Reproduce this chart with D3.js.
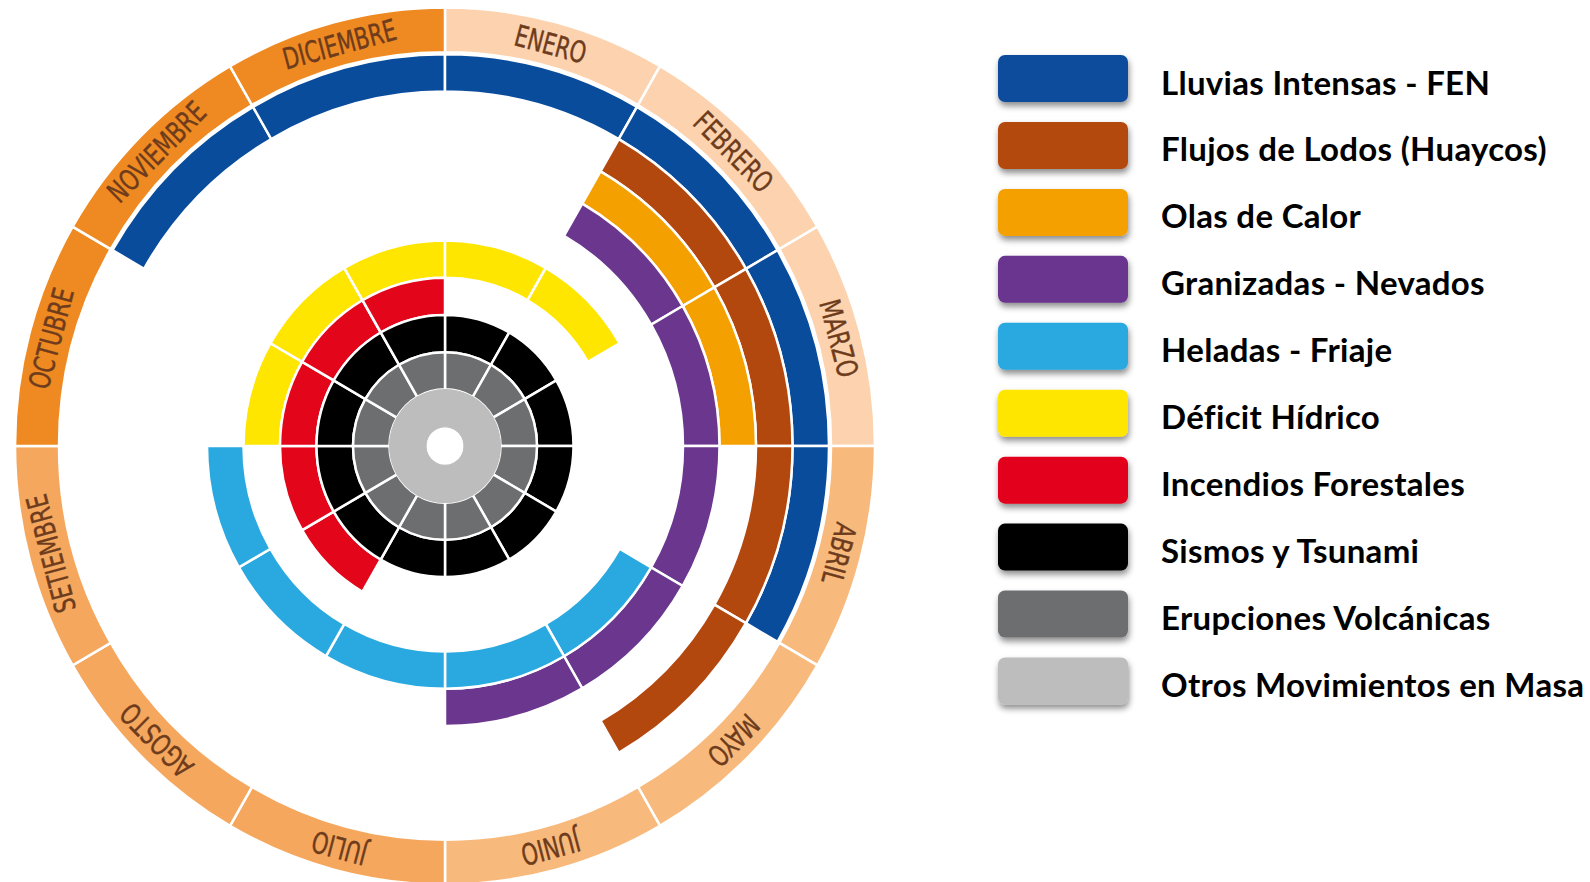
<!DOCTYPE html>
<html>
<head>
<meta charset="utf-8">
<script src="https://cdn.jsdelivr.net/npm/d3@7"></script>
<style>
  body { margin: 0; background: #fff; }
  .month-label { font-family: "Liberation Sans Narrow", "DejaVu Sans Condensed", "Roboto", sans-serif; font-stretch: condensed; }
  .legend-label { font-family: "Lato", "Open Sans", sans-serif; font-weight: 700; }
</style>
</head>
<body>
<div id="chart"></div>
<script>
// meses del calendario (anillo exterior)
var months = ["ENERO", "FEBRERO", "MARZO", "ABRIL", "MAYO", "JUNIO",
              "JULIO", "AGOSTO", "SETIEMBRE", "OCTUBRE", "NOVIEMBRE", "DICIEMBRE"];

// peligros, del anillo de afuera hacia el centro
var seriesNames = ["Lluvias Intensas - FEN", "Flujos de Lodos (Huaycos)", "Olas de Calor",
                   "Granizadas - Nevados", "Heladas - Friaje", "Déficit Hídrico",
                   "Incendios Forestales", "Sismos y Tsunami", "Erupciones Volcánicas",
                   "Otros Movimientos en Masa"];

// meses activos de cada peligro (0 = enero)
var allYear = [0, 1, 2, 3, 4, 5, 6, 7, 8, 9, 10, 11];
var seriesMonths = [
    [10, 11, 0, 1, 2, 3],   // Lluvias: nov - abr
    [1, 2, 3, 4],           // Huaycos: feb - may
    [1, 2],                 // Olas de calor: feb - mar
    [1, 2, 3, 4, 5],        // Granizadas: feb - jun
    [4, 5, 6, 7, 8],        // Heladas: may - set
    [9, 10, 11, 0, 1],      // Deficit: oct - feb
    [7, 8, 9, 10, 11],      // Incendios: ago - dic
    allYear,
    allYear,
    allYear
];

var seriesColors = ["#0a4c9c", "#b3480f", "#f4a000", "#6a368e", "#2aa9e0",
                    "#ffe600", "#e3061b", "#000000", "#6d6e70", "#bdbdbd"];
// color del anillo de meses por trimestre
var quarterColors = ["#fcd3ae", "#f8b97c", "#f5a75e", "#ef8a22"];

var width = 1590, height = 882;

var svg = d3.select("#chart").append("svg")
    .attr("width", width)
    .attr("height", height);

var defs = svg.append("defs");
defs.append("filter")
    .attr("id", "shadow")
    .attr("x", "-20%").attr("y", "-30%")
    .attr("width", "140%").attr("height", "180%")
    .append("feDropShadow")
    .attr("dx", 1).attr("dy", 4)
    .attr("stdDeviation", 3)
    .attr("flood-color", "#000")
    .attr("flood-opacity", 0.45);

var g = svg.append("g")
    .attr("transform", "translate(445,446) scale(1,1.02)");

var angle = d3.scaleLinear().domain([0, 12]).range([0, 2 * Math.PI]);

// bandas de radio: el centro es "Otros", afuera "Lluvias"
var radius = d3.scaleBand()
    .domain(seriesNames.slice().reverse())
    .range([19, 384])
    .paddingInner(0);

var arc = d3.arc();

// anillos de peligros
var segments = [];
seriesNames.forEach(function (name, i) {
    seriesMonths[i].forEach(function (m) {
        segments.push({ name: name, color: seriesColors[i], month: m });
    });
});

g.selectAll(".seg")
    .data(segments)
    .enter().append("path")
    .attr("class", "seg")
    .attr("d", function (d) {
        return arc({
            innerRadius: radius(d.name),
            outerRadius: radius(d.name) + radius.bandwidth(),
            startAngle: angle(d.month),
            endAngle: angle(d.month + 1)
        });
    })
    .attr("fill", function (d) { return d.color; })
    .attr("stroke", function (d) { return d.name == "Otros Movimientos en Masa" ? d.color : "#fff"; })
    .attr("stroke-width", function (d) { return d.name == "Otros Movimientos en Masa" ? 1 : 2.5; });

// anillo de meses
var monthInner = 386, monthOuter = 430;

g.selectAll(".month")
    .data(months)
    .enter().append("path")
    .attr("class", "month")
    .attr("d", function (d, i) {
        return arc({
            innerRadius: monthInner,
            outerRadius: monthOuter,
            startAngle: angle(i),
            endAngle: angle(i + 1)
        });
    })
    .attr("fill", function (d, i) { return quarterColors[Math.floor(i / 3)]; })
    .attr("stroke", "#fff")
    .attr("stroke-width", 2.5);

g.selectAll(".month-label")
    .data(months)
    .enter().append("text")
    .attr("class", "month-label")
    .attr("transform", function (d, i) {
        var a = angle(i + 0.5) * 180 / Math.PI;
        return "rotate(" + a + ") translate(0," + (-(monthInner + monthOuter) / 2) + ") scale(0.8,1)";
    })
    .attr("text-anchor", "middle")
    .attr("dy", "0.36em")
    .attr("font-size", 29)
    .attr("fill", "#6e3c1c")
    .attr("stroke", "#6e3c1c")
    .attr("stroke-width", 0.4)
    .text(function (d) { return d; });

// leyenda
var legendY = d3.scalePoint().domain(seriesNames).range([78.5, 681]);

var legend = svg.selectAll(".legend")
    .data(seriesNames)
    .enter().append("g")
    .attr("class", "legend")
    .attr("transform", function (d) { return "translate(0," + legendY(d) + ")"; });

legend.append("rect")
    .attr("x", 998)
    .attr("y", -23.5)
    .attr("width", 130)
    .attr("height", 47)
    .attr("rx", 7)
    .attr("fill", function (d, i) { return seriesColors[i]; })
    .attr("filter", "url(#shadow)");

legend.append("text")
    .attr("class", "legend-label")
    .attr("x", 1161)
    .attr("y", 16)
    .attr("font-size", 33)
    .attr("letter-spacing", 0.3)
    .attr("fill", "#000")
    .text(function (d) { return d; });
</script>
</body>
</html>
